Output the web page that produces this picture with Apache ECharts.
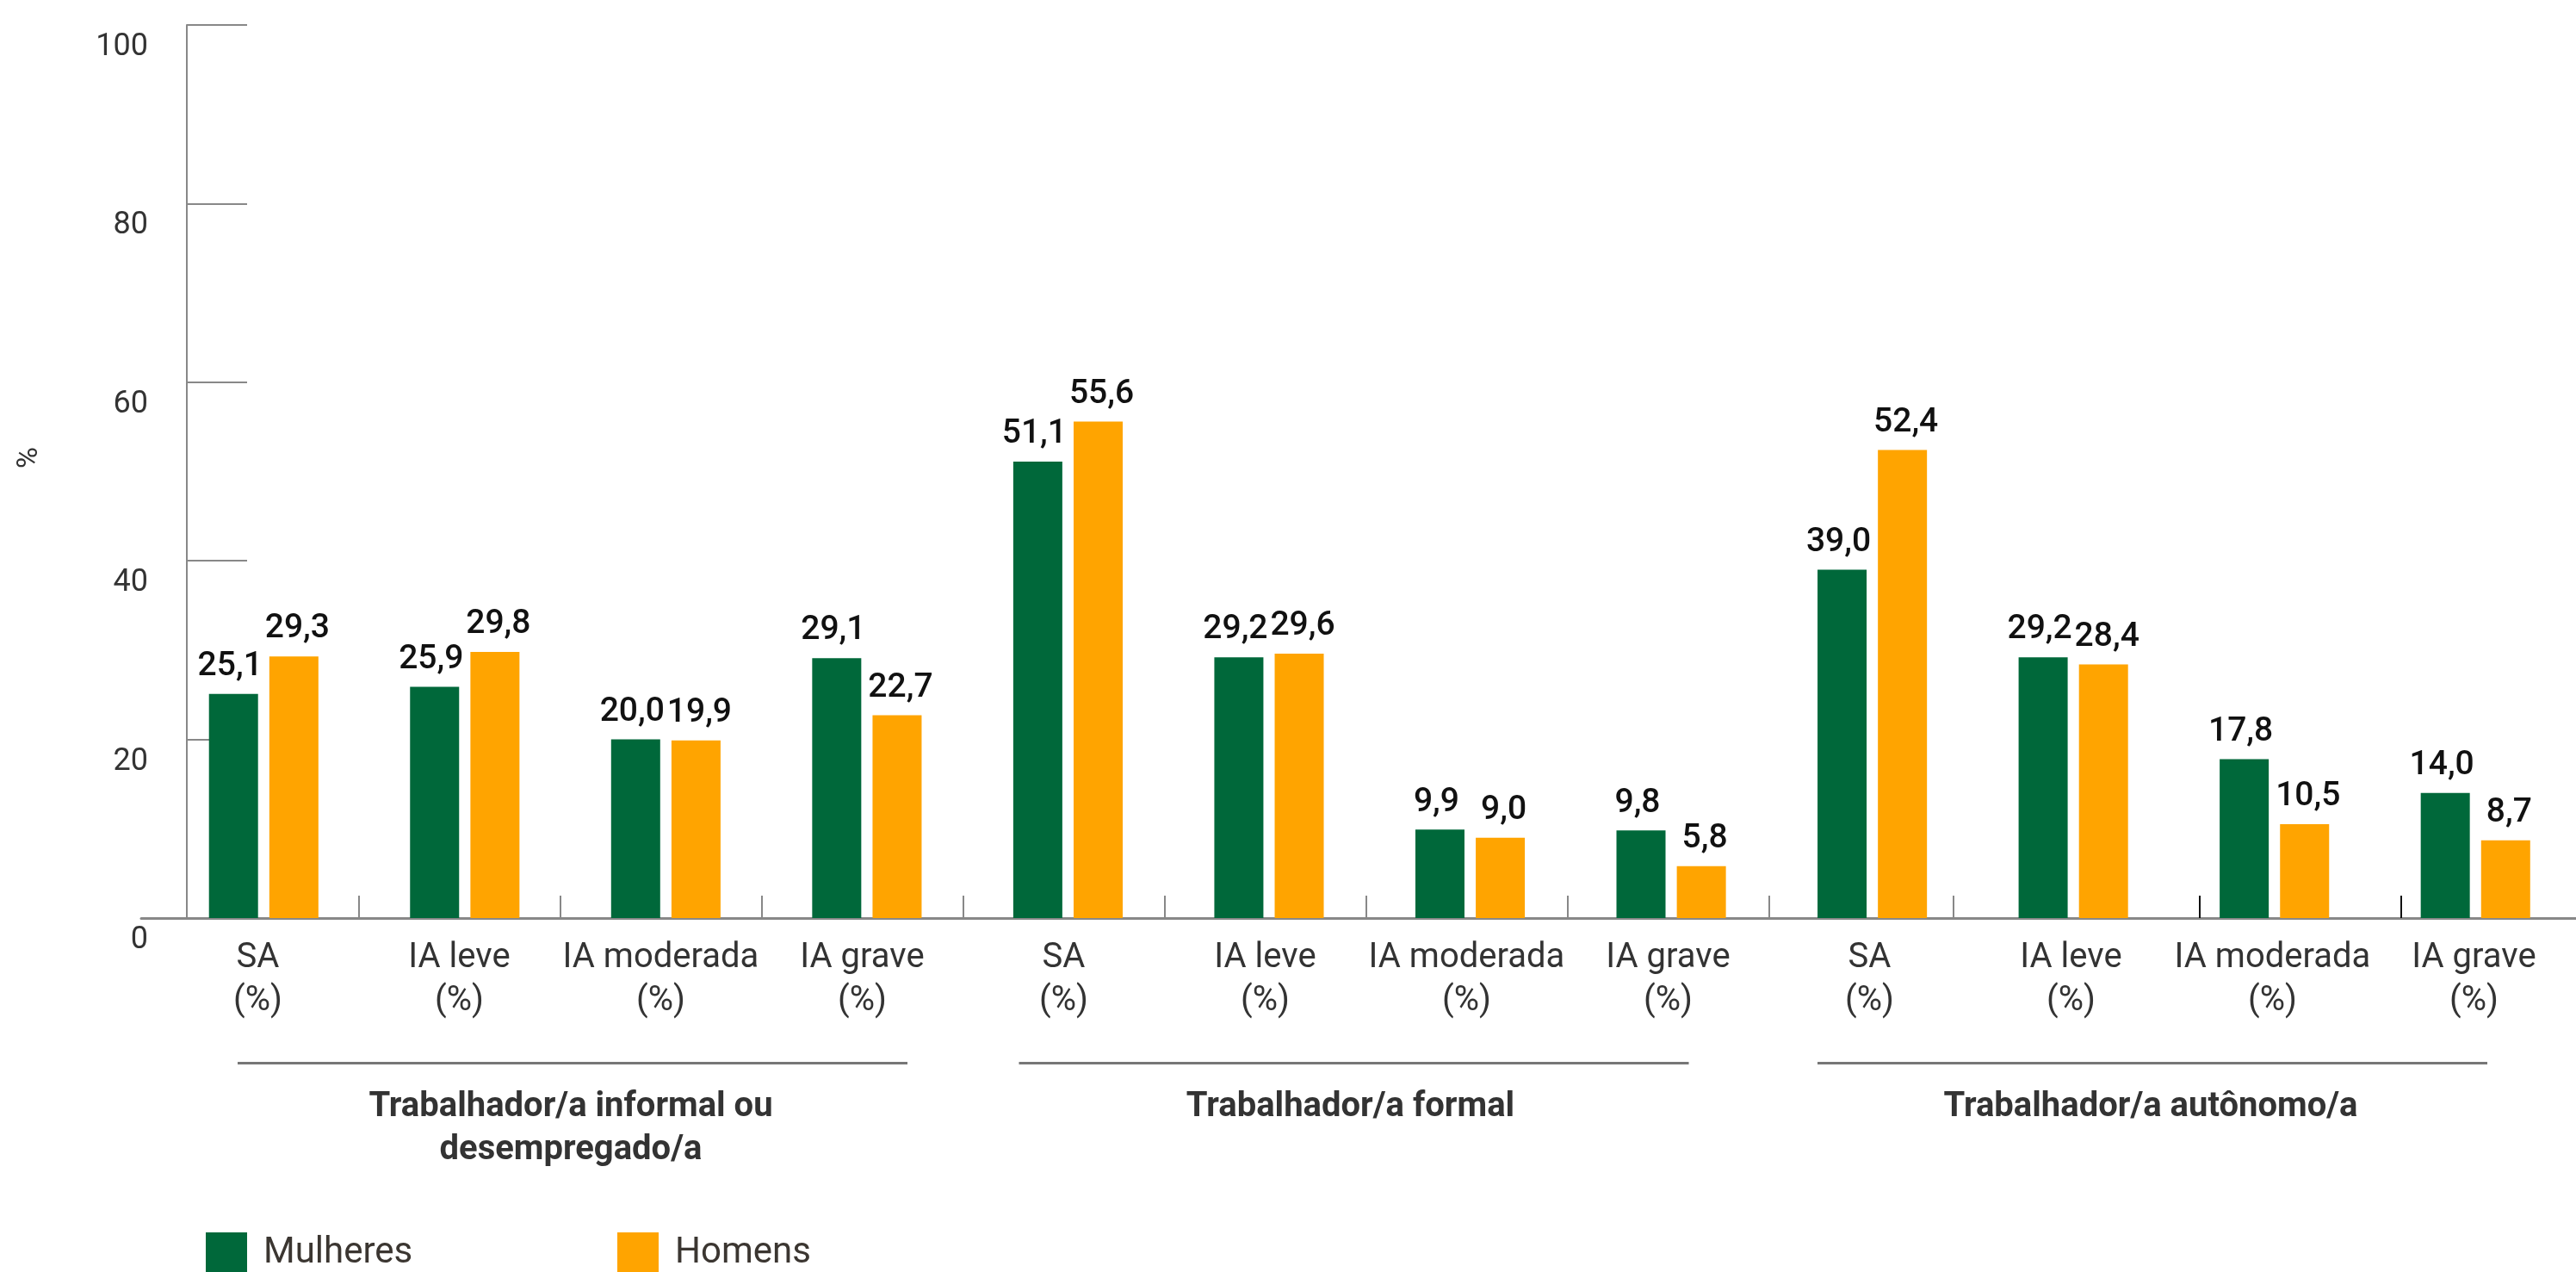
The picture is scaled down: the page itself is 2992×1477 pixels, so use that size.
<!DOCTYPE html>
<html>
<head>
<meta charset="utf-8">
<script src="https://cdn.jsdelivr.net/npm/echarts@6/dist/echarts.min.js"></script>
<style>
html,body{margin:0;padding:0;background:#fff;}
#c{width:2992px;height:1477px;}
</style>
</head>
<body>
<div id="c"></div>
<script>
// ---- data ----
const categories = [
  'SA\n(%)', 'IA leve\n(%)', 'IA moderada\n(%)', 'IA grave\n(%)',
  'SA\n(%)', 'IA leve\n(%)', 'IA moderada\n(%)', 'IA grave\n(%)',
  'SA\n(%)', 'IA leve\n(%)', 'IA moderada\n(%)', 'IA grave\n(%)'
];
const groupLines = [
  ['Trabalhador/a informal ou', 'desempregado/a'],
  ['Trabalhador/a formal'],
  ['Trabalhador/a autônomo/a']
];
const mulheres = [25.1, 25.9, 20.0, 29.1, 51.1, 29.2, 9.9, 9.8, 39.0, 29.2, 17.8, 14.0];
const homens   = [29.3, 29.8, 19.9, 22.7, 55.6, 29.6, 9.0, 5.8, 52.4, 28.4, 10.5, 8.7];
const seriesNames = ['Mulheres', 'Homens'];
const yTicks = { min: 0, max: 100, interval: 20 };
// separator tick positions along the category axis (in category units)
const grayTickPos = [1, 2, 3, 4, 5, 6, 7, 8, 8.915];
const blackTickPos = [10.137, 11.137];

const GREEN = '#00683A', ORANGE = '#FFA400';
const FONT = 'Roboto, "Noto Sans", sans-serif';
const AXIS_GRAY = '#888888';

const chart = echarts.init(document.getElementById('c'), null, { renderer: 'canvas' });
const fmt = p => p.value.toFixed(1).replace('.', ',');
const groupNames = groupLines.map(l => l.join('\n'));

const hiddenY = (gi) => ({ type: 'value', gridIndex: gi, min: 0, max: 100, show: false });
const tickAxis = (gi, vals, color) => ({
  type: 'value', gridIndex: gi, min: 0, max: 12,
  axisLine: { show: false }, axisLabel: { show: false }, splitLine: { show: false },
  axisTick: { show: true, inside: true, length: 26, customValues: vals, lineStyle: { color: color, width: 2 } }
});

const GTXT = { fontSize: 40, fontWeight: 'bold', lineHeight: 50, color: '#333', fontFamily: FONT };
const LBL = { show: true, position: 'top', distance: 12, formatter: fmt, fontSize: 39, fontWeight: 500, color: '#111', fontFamily: FONT };

const option = {
  animation: false,
  textStyle: { fontFamily: FONT },
  grid: [
    { left: 182.5, right: 1.5, top: 29, bottom: 411 },   // 0 labels + y axis
    { left: 164, right: 0, top: 29, bottom: 411 },       // 1 baseline
    { left: 204.25, right: 35.25, top: 29, bottom: 411 },// 2 group labels
    { left: 182.5, right: 1.5, top: 29, bottom: 411 },   // 3 gray ticks
    { left: 182.5, right: 1.5, top: 29, bottom: 411 },   // 4 black ticks
    { left: 189.5, right: -5.5, top: 29, bottom: 411 }   // 5 bars
  ],
  legend: [
    { data: [seriesNames[0]], left: 239, top: 1431, padding: 0, itemWidth: 48, itemHeight: 48, icon: 'rect',
      textStyle: { fontFamily: FONT, fontSize: 42, color: '#3b3631', padding: [0, 0, 0, 14] } },
    { data: [seriesNames[1]], left: 717, top: 1431, padding: 0, itemWidth: 48, itemHeight: 48, icon: 'rect',
      textStyle: { fontFamily: FONT, fontSize: 42, color: '#3b3631', padding: [0, 0, 0, 14] } }
  ],
  xAxis: [
    {
      type: 'category', gridIndex: 0, data: categories, boundaryGap: true,
      axisLine: { show: false }, axisTick: { show: false },
      axisLabel: { interval: 0, margin: 22, fontSize: 40, lineHeight: 50, color: '#333', fontFamily: FONT }
    },
    {
      type: 'value', gridIndex: 1, min: 0, max: 1,
      axisLine: { show: true, onZero: false, lineStyle: { color: AXIS_GRAY, width: 3 } },
      axisTick: { show: false }, axisLabel: { show: false }, splitLine: { show: false }
    },
    {
      type: 'category', gridIndex: 2, data: groupNames,
      axisLine: { show: false }, axisTick: { show: false }, splitLine: { show: false },
      axisLabel: {
        interval: 0, margin: 195,
        formatter: (v, i) => groupLines[i].map(t => (i === 1 ? '{s|' : '{b|') + t + '}').join('\n'),
        rich: { b: GTXT, s: Object.assign({}, GTXT, { padding: [0, 24, 0, 0] }) }
      }
    },
    tickAxis(3, grayTickPos, AXIS_GRAY),
    tickAxis(4, blackTickPos, '#111'),
    {
      type: 'category', gridIndex: 5, data: categories, show: false
    }
  ],
  yAxis: [
    {
      type: 'value', gridIndex: 0, min: yTicks.min, max: yTicks.max, interval: yTicks.interval,
      offset: -34.5,
      name: '%', nameLocation: 'middle', nameRotate: 90, nameGap: 166,
      nameTextStyle: { fontSize: 34, color: '#333', fontFamily: FONT, padding: [0, 0, 0, 32] },
      axisLine: { show: true, lineStyle: { color: AXIS_GRAY, width: 2 } },
      axisTick: { show: true, inside: true, length: 70, lineStyle: { color: AXIS_GRAY, width: 2 } },
      axisLabel: { margin: 45, fontSize: 36, color: '#333', fontFamily: FONT, verticalAlign: 'top', lineHeight: 52 },
      splitLine: { show: false }
    },
    hiddenY(1), hiddenY(2), hiddenY(3), hiddenY(4), hiddenY(5)
  ],
  series: [
    {
      name: seriesNames[0], type: 'bar', xAxisIndex: 5, yAxisIndex: 5, data: mulheres,
      barWidth: 57, barGap: '23%', itemStyle: { color: GREEN },
      label: Object.assign({}, LBL, { offset: [-4, 0] })
    },
    {
      name: seriesNames[1], type: 'bar', xAxisIndex: 5, yAxisIndex: 5, data: homens,
      barWidth: 57, barGap: '23%', itemStyle: { color: ORANGE },
      label: Object.assign({}, LBL, { offset: [4, 0] })
    }
  ]
};
chart.setOption(option);

// group underline segments, centred on each group label
const zeroY = chart.convertToPixel({ yAxisIndex: 0 }, 0);
const half = 389;
const lineShift = [2, -8, 2];
const lines = groupNames.map((g, i) => {
  const cx = chart.convertToPixel({ xAxisIndex: 2 }, i) + lineShift[i];
  return {
    type: 'rect', silent: true,
    shape: { x: cx - half, y: zeroY + 167, width: half * 2, height: 3 },
    style: { fill: '#777777' }
  };
});
chart.setOption({ graphic: lines });
</script>
</body>
</html>
